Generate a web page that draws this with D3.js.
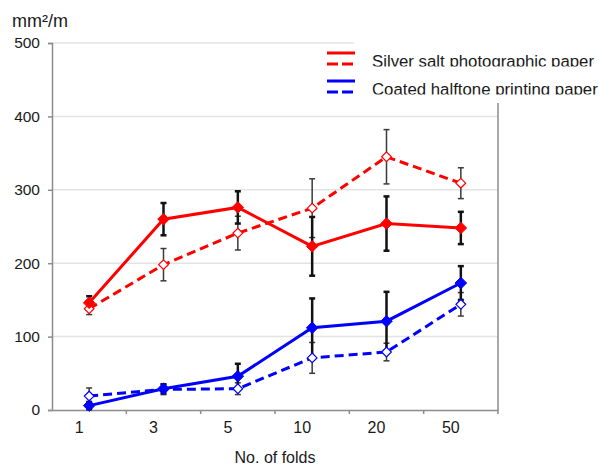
<!DOCTYPE html>
<html>
<head>
<meta charset="utf-8">
<script src="https://cdn.jsdelivr.net/npm/d3@7"></script>
<style>
  body { margin: 0; background: #fff; }
  text { font-family: Arial, "Liberation Sans", sans-serif; fill: #1a1a1a; }
</style>
</head>
<body>
<div id="chart"></div>
<script>
// data
var folds = ["1", "3", "5", "10", "20", "50"];
var yTicks = [0, 100, 200, 300, 400, 500];

var silverSolid = [146, 260, 276, 223, 254, 248];
var silverSolidErr = [9, 22, 22, 40, 37, 22];
var silverDashed = [138, 198, 241, 275, 345, 309];
var silverDashedErr = [8, 22, 23, 40, 37, 21];

var coatedSolid = [6, 29, 46, 112, 121, 173];
var coatedSolidErr = [5, 6, 17, 40, 40, 23];
var coatedDashed = [19, 28, 29, 71, 79, 144];
var coatedDashedErr = [11, 7, 8, 21, 12, 16];

var legendLabels = ["Silver salt photographic paper", "Coated halftone printing paper"];

var series = [
  { values: silverDashed, err: silverDashedErr, color: "#ff0000", dashed: true },
  { values: coatedDashed, err: coatedDashedErr, color: "#0000ff", dashed: true },
  { values: silverSolid, err: silverSolidErr, color: "#ff0000", dashed: false },
  { values: coatedSolid, err: coatedSolidErr, color: "#0000ff", dashed: false }
];

var width = 599, height = 466;
var margin = { top: 43, right: 101, bottom: 56, left: 52 };

var svg = d3.select("#chart").append("svg")
    .attr("width", width)
    .attr("height", height);

var x = d3.scaleBand()
    .domain(folds)
    .range([margin.left, width - margin.right]);

var y = d3.scaleLinear()
    .domain([0, 500])
    .range([height - margin.bottom, margin.top]);

// gridlines
svg.append("g")
  .selectAll("line")
  .data(yTicks.slice(1))
  .enter().append("line")
    .attr("x1", margin.left)
    .attr("x2", width - margin.right)
    .attr("y1", function(d) { return y(d); })
    .attr("y2", function(d) { return y(d); })
    .attr("stroke", "#e3e3e3")
    .attr("stroke-width", 1.5);

// right border
svg.append("line")
    .attr("x1", width - margin.right).attr("x2", width - margin.right)
    .attr("y1", margin.top).attr("y2", y(0))
    .attr("stroke", "#8c8c8c").attr("stroke-width", 1.5);

// y axis
var yAxis = svg.append("g")
    .attr("transform", "translate(" + margin.left + ",0)")
    .call(d3.axisLeft(y).tickValues(yTicks).tickSize(4).tickPadding(8));
yAxis.select(".domain").attr("stroke", "#8c8c8c").attr("stroke-width", 1.5);
yAxis.selectAll(".tick line").attr("stroke", "#8c8c8c").attr("stroke-width", 1.5);
yAxis.selectAll("text").style("font-size", "15.5px").attr("fill", "#1a1a1a");

// x axis: labels at band centres, tick marks at band edges
var xAxis = svg.append("g")
    .attr("transform", "translate(0," + y(0) + ")")
    .call(d3.axisBottom(x).tickSize(0).tickPadding(12));
xAxis.select(".domain").attr("stroke", "#8c8c8c").attr("stroke-width", 1.5);
xAxis.selectAll("text").style("font-size", "16px").attr("fill", "#1a1a1a").attr("dx", -10);

xAxis.selectAll(".edge")
  .data(folds)
  .enter().append("line")
    .attr("class", "edge")
    .attr("x1", function(d) { return x(d) + x.bandwidth(); })
    .attr("x2", function(d) { return x(d) + x.bandwidth(); })
    .attr("y1", 0).attr("y2", 4)
    .attr("stroke", "#8c8c8c").attr("stroke-width", 1.5);

// error bars
var cx = function(i) { return x(folds[i]) + x.bandwidth() / 2; };

series.forEach(function(s) {
  var g = svg.append("g")
      .attr("stroke", s.dashed ? "#3a3a3a" : "#111")
      .attr("stroke-width", s.dashed ? 1.5 : 2.5);
  s.values.forEach(function(v, i) {
    var lo = y(v - s.err[i]), hi = y(v + s.err[i]);
    g.append("line").attr("x1", cx(i)).attr("x2", cx(i)).attr("y1", lo).attr("y2", hi);
    g.append("line").attr("x1", cx(i) - 3).attr("x2", cx(i) + 3).attr("y1", lo).attr("y2", lo);
    g.append("line").attr("x1", cx(i) - 3).attr("x2", cx(i) + 3).attr("y1", hi).attr("y2", hi);
  });
});

// lines and markers
var line = d3.line()
    .x(function(d, i) { return cx(i); })
    .y(function(d) { return y(d); });

var diamond = d3.symbol().type(d3.symbolDiamond2);

series.forEach(function(s) {
  svg.append("path")
      .datum(s.values)
      .attr("d", line)
      .attr("fill", "none")
      .attr("stroke", s.color)
      .attr("stroke-width", 3)
      .attr("stroke-dasharray", s.dashed ? "9,5" : null);

  svg.append("g")
    .selectAll("path")
    .data(s.values)
    .enter().append("path")
      .attr("d", diamond.size(s.dashed ? 60 : 85))
      .attr("transform", function(d, i) { return "translate(" + cx(i) + "," + y(d) + ")"; })
      .attr("fill", s.dashed ? "#fff" : s.color)
      .attr("stroke", s.color)
      .attr("stroke-width", s.dashed ? 1.2 : 1);
});

// legend
svg.append("rect")
    .attr("x", 354).attr("y", 0)
    .attr("width", width - 354).attr("height", 103)
    .attr("fill", "#fff");

var legendColors = ["#ff0000", "#0000ff"];
var legendRows = [58, 86];
var defs = svg.append("defs");

legendLabels.forEach(function(label, k) {
  var ly = legendRows[k];
  var g = svg.append("g");
  g.append("line")
      .attr("x1", 327).attr("x2", 355)
      .attr("y1", ly - 5).attr("y2", ly - 5)
      .attr("stroke", legendColors[k]).attr("stroke-width", 3);
  g.append("line")
      .attr("x1", 327).attr("x2", 355)
      .attr("y1", ly + 6).attr("y2", ly + 6)
      .attr("stroke", legendColors[k]).attr("stroke-width", 3)
      .attr("stroke-dasharray", "11,4");

  defs.append("clipPath").attr("id", "clip" + k)
    .append("rect")
      .attr("x", 360).attr("y", ly - 20)
      .attr("width", 240).attr("height", 28.5);

  g.append("text")
      .attr("x", 372).attr("y", ly + 8.5)
      .attr("clip-path", "url(#clip" + k + ")")
      .style("font-size", "16.8px")
      .text(label);
});

// axis titles
svg.append("text")
    .attr("x", 12).attr("y", 27)
    .style("font-size", "18px")
    .text("mm²/m");

svg.append("text")
    .attr("x", (margin.left + width - margin.right) / 2)
    .attr("y", 463)
    .attr("text-anchor", "middle")
    .style("font-size", "16px")
    .text("No. of folds");
</script>
</body>
</html>
